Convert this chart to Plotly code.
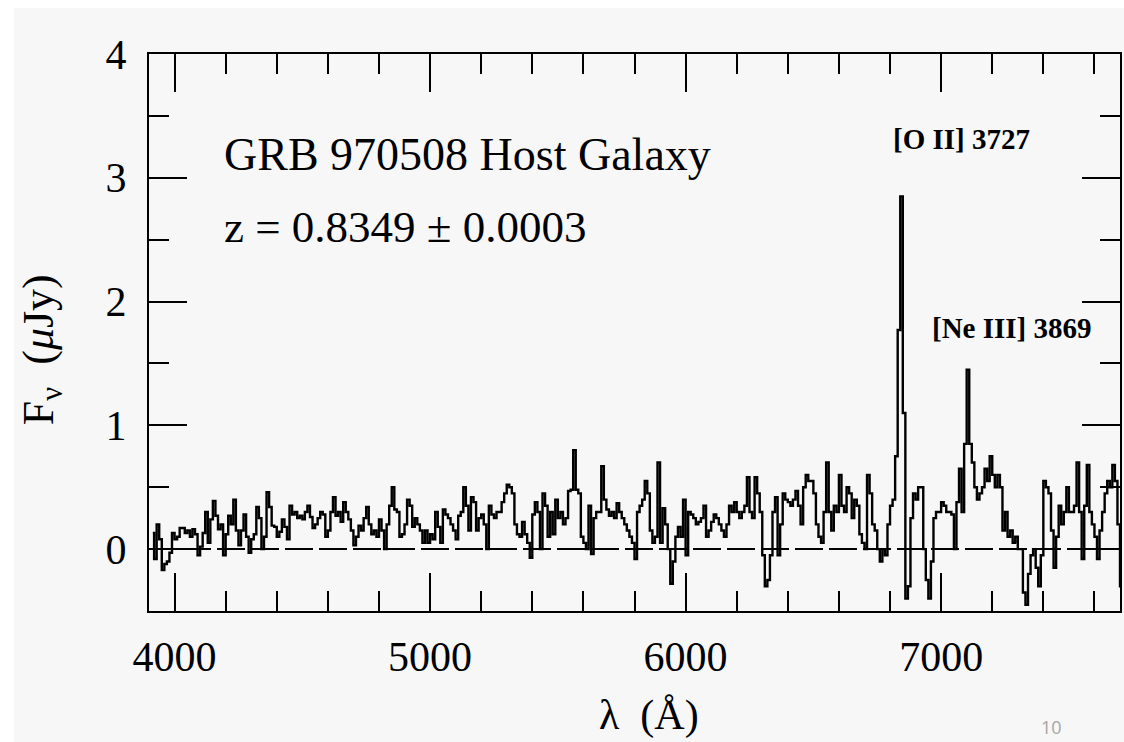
import plotly.graph_objects as go

# ---- data ----
wave_start = 3915   # centre of first bin (Angstrom)
wave_step = 10      # bin width (Angstrom)

flux = [
    # 3915 - 4005
    0.13, -0.08, 0.2, 0.08, -0.17, -0.12, -0.1, -0.03, 0.13, 0.08,
    # 4015 - 4105
    0.1, 0.17, 0.17, 0.13, 0.15, 0.1, 0.16, 0.12, -0.05, 0.02,
    # 4115 - 4205
    0.13, 0.3, 0.05, 0.24, 0.39, 0.27, 0.16, 0.2, -0.05, 0.12,
    # 4215 - 4305
    0.27, 0.2, 0.4, 0.15, 0.03, 0.15, 0.28, 0.1, -0.03, 0.08,
    # 4315 - 4405
    0.12, 0.34, 0.25, 0.0, 0.1, 0.46, 0.34, 0.19, 0.18, 0.1,
    # 4415 - 4505
    0.14, 0.24, 0.18, 0.08, 0.35, 0.28, 0.3, 0.25, 0.27, 0.24,
    # 4515 - 4605
    0.3, 0.35, 0.26, 0.17, 0.2, 0.25, 0.3, 0.28, 0.1, 0.15,
    # 4615 - 4705
    0.3, 0.42, 0.27, 0.3, 0.22, 0.38, 0.3, 0.24, 0.15, 0.03,
    # 4715 - 4805
    0.1, 0.19, 0.15, 0.25, 0.34, 0.2, 0.12, 0.15, 0.1, 0.24,
    # 4815 - 4905
    0.15, 0.0, 0.2, 0.35, 0.5, 0.32, 0.3, 0.1, 0.12, 0.2,
    # 4915 - 5005
    0.4, 0.35, 0.18, 0.25, 0.2, 0.15, 0.05, 0.15, 0.05, 0.12,
    # 5015 - 5105
    0.08, 0.3, 0.18, 0.05, 0.32, 0.28, 0.25, 0.2, 0.15, 0.08,
    # 5115 - 5205
    0.27, 0.3, 0.5, 0.35, 0.15, 0.42, 0.38, 0.15, 0.25, 0.28,
    # 5215 - 5305
    0.2, 0.0, 0.35, 0.28, 0.25, 0.3, 0.3, 0.38, 0.45, 0.52,
    # 5315 - 5405
    0.5, 0.45, 0.2, 0.12, 0.1, 0.22, 0.12, 0.05, -0.07, 0.28,
    # 5415 - 5505
    0.38, 0.3, 0.0, 0.45, 0.35, 0.1, 0.3, 0.12, 0.4, 0.25,
    # 5515 - 5605
    0.3, 0.2, 0.25, 0.47, 0.48, 0.8, 0.48, 0.45, 0.1, 0.05,
    # 5615 - 5705
    0.0, 0.35, -0.04, 0.25, 0.3, 0.3, 0.67, 0.4, 0.32, 0.27,
    # 5715 - 5805
    0.3, 0.25, 0.37, 0.3, 0.25, 0.2, 0.15, 0.1, 0.05, -0.08,
    # 5815 - 5905
    0.3, 0.35, 0.4, 0.55, 0.45, 0.15, 0.05, 0.1, 0.7, 0.05,
    # 5915 - 6005
    0.33, 0.2, 0.0, -0.28, -0.1, 0.1, 0.18, 0.1, 0.4, -0.05,
    # 6015 - 6105
    0.3, 0.28, 0.25, 0.2, 0.22, 0.25, 0.35, 0.1, 0.15, 0.22,
    # 6115 - 6205
    0.28, 0.25, 0.2, 0.15, 0.1, 0.2, 0.35, 0.3, 0.38, 0.3,
    # 6215 - 6305
    0.25, 0.3, 0.35, 0.58, 0.3, 0.25, 0.58, 0.45, 0.3, -0.05,
    # 6315 - 6405
    -0.3, -0.25, -0.05, 0.3, 0.42, -0.05, 0.2, 0.45, 0.4, 0.38,
    # 6415 - 6505
    0.35, 0.4, 0.47, 0.35, 0.2, 0.5, 0.6, 0.55, 0.55, 0.45,
    # 6515 - 6605
    0.2, 0.1, 0.05, 0.3, 0.7, 0.3, 0.15, 0.35, 0.3, 0.6,
    # 6615 - 6705
    0.35, 0.3, 0.5, 0.45, 0.25, 0.4, 0.35, 0.12, 0.05, 0.0,
    # 6715 - 6805
    0.6, 0.45, 0.2, 0.15, 0.0, -0.1, 0.0, -0.05, 0.2, 0.35,
    # 6815 - 6905
    0.4, 0.75, 1.77, 2.85, 1.1, -0.4, -0.3, 0.25, 0.45, 0.4,
    # 6915 - 7005
    0.5, 0.5, 0.0, -0.25, -0.4, -0.1, 0.25, 0.3, 0.3, 0.38,
    # 7015 - 7105
    0.35, 0.3, 0.3, 0.28, 0.0, 0.38, 0.65, 0.3, 0.85, 1.45,
    # 7115 - 7205
    0.85, 0.7, 0.5, 0.4, 0.45, 0.5, 0.65, 0.55, 0.75, 0.6,
    # 7215 - 7305
    0.5, 0.6, 0.5, 0.15, 0.3, 0.1, 0.15, 0.05, 0.1, 0.0,
    # 7315 - 7405
    0.0, -0.35, -0.45, -0.2, -0.05, 0.0, -0.15, -0.3, -0.05, 0.55,
    # 7415 - 7505
    0.5, 0.45, 0.15, -0.15, 0.1, 0.35, 0.2, 0.3, 0.5, 0.3,
    # 7515 - 7605
    0.3, 0.35, 0.7, 0.3, -0.08, 0.35, 0.68, 0.3, 0.2, 0.1,
    # 7615 - 7705
    -0.08, 0.15, 0.3, 0.45, 0.55, 0.5, 0.68, 0.55, 0.2, -0.3,
]
wavelength = [wave_start + wave_step * i for i in range(len(flux))]

x_range = [3900, 7700]
y_range = [-0.5, 4]
x_ticks = [4000, 5000, 6000, 7000]
y_ticks = [0, 1, 2, 3, 4]

title_text = "GRB 970508 Host Galaxy"
z_text = "z = 0.8349 ± 0.0003"
line_labels = ["[O II] 3727", "[Ne III] 3869"]
line_label_pos = [(6805, 3.31), (6957, 1.79)]

SERIF = "Liberation Serif, Times New Roman, serif"

fig = go.Figure()
fig.add_trace(go.Scatter(
    x=wavelength, y=flux, mode="lines",
    line=dict(color="black", width=2.4, shape="hvh"),
    hoverinfo="skip", showlegend=False,
))

# background panel (slide grey) and zero line
fig.add_shape(type="rect", xref="paper", yref="paper",
              x0=-0.139, x1=1.01, y0=-0.3, y1=1.0826,
              fillcolor="#f7f7f7", line=dict(width=0), layer="below")
fig.add_shape(type="line", xref="x", yref="y",
              x0=x_range[0], x1=x_range[1], y0=0, y1=0,
              line=dict(color="black", width=2, dash="28px,6px"), layer="below")

axis_common = dict(
    showline=True, linecolor="black", linewidth=2, mirror="allticks",
    ticks="inside", tickcolor="black", tickwidth=2, ticklen=38,
    showgrid=False, zeroline=False,
    tickfont=dict(family=SERIF, size=42, color="black"),
)
fig.update_xaxes(range=x_range, tickvals=x_ticks, ticklabelstandoff=8,
                 minor=dict(dtick=200, tick0=4000, ticks="inside", ticklen=20,
                            tickwidth=2, tickcolor="black", showgrid=False),
                 **axis_common)
fig.update_yaxes(range=y_range, tickvals=y_ticks, ticklabelstandoff=12,
                 minor=dict(dtick=0.5, tick0=0, ticks="inside", ticklen=20,
                            tickwidth=2, tickcolor="black", showgrid=False),
                 **axis_common)

fig.add_annotation(x=4184, y=3.19, xref="x", yref="y", text=title_text,
                   showarrow=False, xanchor="left", yanchor="middle",
                   font=dict(family=SERIF, size=46, color="black"))
fig.add_annotation(x=4184, y=2.6, xref="x", yref="y", text=z_text,
                   showarrow=False, xanchor="left", yanchor="middle",
                   font=dict(family=SERIF, size=45, color="black"))
for lab, (lx, ly) in zip(line_labels, line_label_pos):
    fig.add_annotation(x=lx, y=ly, xref="x", yref="y", text="<b>" + lab + "</b>",
                       showarrow=False, xanchor="left", yanchor="middle",
                       font=dict(family=SERIF, size=29, color="black"))

# axis titles
fig.add_annotation(x=-0.11, y=0.4686, xref="paper", yref="paper",
                   text="F<sub>ν</sub>  (<i>μ</i>Jy)", textangle=-90,
                   showarrow=False, xanchor="center", yanchor="middle",
                   font=dict(family=SERIF, size=44, color="black"))
fig.add_annotation(x=0.515, y=-0.2335, xref="paper", yref="paper",
                   text="λ  (Å)", showarrow=False,
                   xanchor="center", yanchor="bottom",
                   font=dict(family=SERIF, size=42, color="black"))
# slide page number
fig.add_annotation(x=0.929, y=-0.2335, xref="paper", yref="paper",
                   text="10", showarrow=False, xanchor="center", yanchor="bottom",
                   font=dict(family="Open Sans, sans-serif", size=18, color="#a6a6a6"))

fig.update_layout(
    width=1124, height=742,
    margin=dict(l=149, r=2, t=54, b=131),
    paper_bgcolor="white", plot_bgcolor="rgba(0,0,0,0)",
    showlegend=False,
)

fig.write_html("out.html")
